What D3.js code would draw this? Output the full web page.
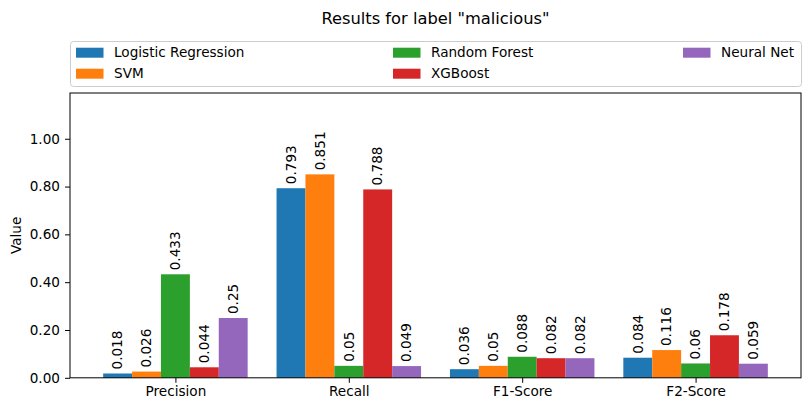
<!DOCTYPE html>
<html><head><meta charset="utf-8">
<script src="https://cdn.jsdelivr.net/npm/d3@7"></script>
<style>body{margin:0;background:#fff}svg{display:block;font-family:"DejaVu Sans",sans-serif}</style>
</head><body><svg id="c" width="811" height="411"></svg>
<script>
const categories = ["Precision", "Recall", "F1-Score", "F2-Score"];
const models = ["Logistic Regression", "SVM", "Random Forest", "XGBoost", "Neural Net"];
const colors = ["#1f77b4", "#ff7f0e", "#2ca02c", "#d62728", "#9467bd"];
const logisticRegression = [0.018, 0.793, 0.036, 0.084];
const svm = [0.026, 0.851, 0.05, 0.116];
const randomForest = [0.433, 0.05, 0.088, 0.06];
const xgboost = [0.044, 0.788, 0.082, 0.178];
const neuralNet = [0.25, 0.049, 0.082, 0.059];
const yTicks = [0, 0.2, 0.4, 0.6, 0.8, 1.0];
const series = [logisticRegression, svm, randomForest, xgboost, neuralNet];

const svg = d3.select("#c");
const L = 70, R = 801, T = 93, B = 377.8;
const bw = 1/6;
const x = d3.scaleLinear().domain([-0.608, 3.608]).range([L, R]);
const y = d3.scaleLinear().domain([0, 1.1914]).range([B, T]);
const fs = 13.6;

// bars
series.forEach((vals, j) => {
  const g = svg.append("g");
  vals.forEach((v, i) => {
    const cx = i + (j - 2) * bw;
    const x0 = x(cx - bw/2), x1 = x(cx + bw/2);
    g.append("rect").attr("x", x0).attr("y", y(v)).attr("width", x1 - x0).attr("height", y(0) - y(v)).attr("fill", colors[j]);
    const tx = (x0 + x1) / 2, ty = y(v) - 4;
    g.append("text").attr("transform", `translate(${tx},${ty}) rotate(-90)`)
      .attr("dy", "0.35em").attr("font-size", fs).attr("fill", "#000").text(String(v));
  });
});

// axes
const yAxis = d3.axisLeft(y).tickValues(yTicks).tickFormat(d3.format(".2f")).tickSize(5).tickPadding(5);
const ya = svg.append("g").attr("transform", `translate(${L},0)`).call(yAxis);
ya.select(".domain").remove();
ya.selectAll("text").attr("font-size", fs).attr("font-family", "DejaVu Sans").attr("fill", "#000");
ya.selectAll("line").attr("stroke", "#000");

const xAxis = d3.axisBottom(x).tickValues(d3.range(categories.length)).tickFormat(i => categories[i]).tickSize(5).tickPadding(4);
const xa = svg.append("g").attr("transform", `translate(0,${B})`).call(xAxis);
xa.select(".domain").remove();
xa.selectAll("text").attr("font-size", fs).attr("font-family", "DejaVu Sans").attr("fill", "#000");
xa.selectAll("line").attr("stroke", "#000");

svg.append("rect").attr("x", L).attr("y", T).attr("width", R - L).attr("height", B - T)
  .attr("fill", "none").attr("stroke", "#000").attr("stroke-width", 1);

// labels
svg.append("text").attr("x", (L + R) / 2).attr("y", 18).attr("text-anchor", "middle").attr("dy", "0.35em")
  .attr("font-size", 16.3).text('Results for label "malicious"');
svg.append("text").attr("transform", `translate(16,${(T + B) / 2}) rotate(-90)`).attr("text-anchor", "middle")
  .attr("dy", "0.35em").attr("font-size", fs).text("Value");

// legend
svg.append("rect").attr("x", 70.5).attr("y", 41.5).attr("width", 731).attr("height", 45).attr("rx", 3)
  .attr("fill", "#fff").attr("fill-opacity", 0.8).attr("stroke", "#cccccc");
const colX = [76, 393, 683];
const rowY = [52.7, 73.7];
models.forEach((m, k) => {
  const c = Math.floor(k / 2), r = k % 2;
  svg.append("rect").attr("x", colX[c]).attr("y", rowY[r] - 5).attr("width", 27.5).attr("height", 10).attr("fill", colors[k]);
  svg.append("text").attr("x", colX[c] + 38).attr("y", rowY[r]).attr("dy", "0.35em").attr("font-size", fs).text(m);
});
</script></body></html>
